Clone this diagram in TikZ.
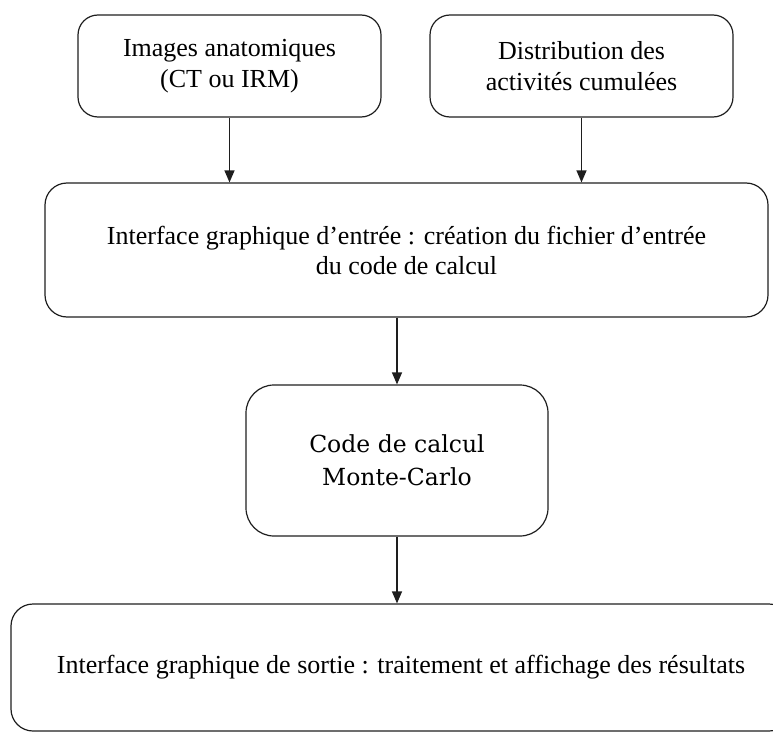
\documentclass[tikz,border=0pt]{standalone}
\usepackage{fontspec}
\setmainfont{Liberation Serif}
\newfontfamily\mcfont{DejaVu Serif}
\usetikzlibrary{arrows.meta, positioning}
\definecolor{lineGray}{RGB}{30,30,30}
\tikzset{
    inbox/.style={
        rectangle,
        draw=lineGray,
        line width=1.2pt,
        rounded corners=20pt,
        align=center,
        minimum width=303pt,
        minimum height=102pt,
        inner sep=0pt,
        font=\fontsize{26}{31}\selectfont
    },
    guibox/.style={
        rectangle,
        draw=lineGray,
        line width=1.2pt,
        rounded corners=22pt,
        align=center,
        inner sep=0pt,
        font=\fontsize{26}{30}\selectfont
    },
    mcbox/.style={
        rectangle,
        draw=lineGray,
        line width=1.2pt,
        rounded corners=28pt,
        align=center,
        minimum width=302pt,
        minimum height=151pt,
        inner sep=0pt,
        font=\mcfont\fontsize{23.5}{33}\selectfont
    },
    flowarrow/.style={-{Triangle[length=12pt,width=10pt]}, line width=1.2pt, draw=lineGray}
}
\begin{document}
\begin{tikzpicture}[x=1pt, y=-1pt]
        \useasboundingbox (0,0) rectangle (773,733);
        \node[inbox] (images) at (229.5,66) {Images anatomiques\\(CT ou IRM)};
        \node[inbox] (distrib) at (581.5,66) {Distribution des\\activit\'es cumul\'ees};
        \node[guibox, minimum width=723pt, minimum height=134pt] (entree) at (406.5,250) {Interface graphique d'entr\'ee : cr\'eation du fichier d'entr\'ee\\du code de calcul};
        \node[mcbox] (montecarlo) at (397,460.5) {Code de calcul\\Monte-Carlo};
        \node[guibox, minimum width=780pt, minimum height=127pt] (sortie) at (401,667.5) {Interface graphique de sortie : traitement et affichage des r\'esultats};
        \draw[flowarrow] (images.south) -- (images.south |- entree.north);
        \draw[flowarrow] (distrib.south) -- (distrib.south |- entree.north);
        \draw[flowarrow] (montecarlo.north |- entree.south) -- (montecarlo.north);
        \draw[flowarrow] (montecarlo.south) -- (montecarlo.south |- sortie.north);
    \end{tikzpicture}
\end{document}
